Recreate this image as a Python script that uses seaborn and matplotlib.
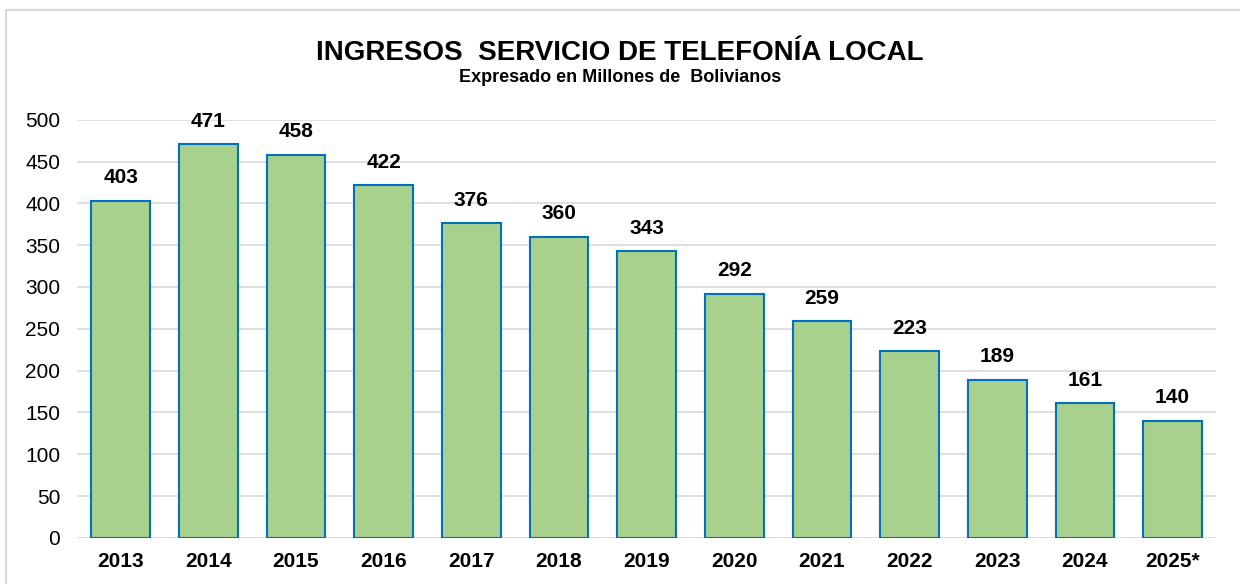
import matplotlib
matplotlib.use("Agg")
import matplotlib.pyplot as plt
import seaborn as sns
import pandas as pd

# data
years = ["2013", "2014", "2015", "2016", "2017", "2018", "2019",
         "2020", "2021", "2022", "2023", "2024", "2025*"]
ingresos = [403, 471, 458, 422, 376, 360, 343, 292, 259, 223, 189, 161, 140]
y_ticks = [0, 50, 100, 150, 200, 250, 300, 350, 400, 450, 500]

df = pd.DataFrame({"anio": years, "ingresos": ingresos})

sns.set_style("white")
plt.rcParams["font.family"] = ["Liberation Sans", "DejaVu Sans"]
plt.rcParams["text.color"] = "black"
plt.rcParams["xtick.color"] = "black"
plt.rcParams["ytick.color"] = "black"

fig = plt.figure(figsize=(12.4, 5.84), dpi=100)
ax = fig.add_axes([0.062, 0.079, 0.919, 0.716])

sns.barplot(data=df, x="anio", y="ingresos", color="#A9D18E",
            edgecolor="#0070C0", linewidth=1.5, width=0.67,
            saturation=1, ax=ax, zorder=3)

# value labels above bars
for i, v in enumerate(ingresos):
    ax.text(i, v + 16, str(v), ha="center", va="bottom",
            fontsize=15, fontweight="bold", color="black", clip_on=False)

ax.set_ylim(0, 500)
ax.set_xlim(-0.5, len(years) - 0.5)
ax.set_yticks(y_ticks)
ax.yaxis.grid(True, color="#D9D9D9", linewidth=1.2, zorder=0)
ax.set_axisbelow(True)
ax.tick_params(axis="y", labelsize=15, length=0, pad=12, labelcolor="black")
ax.tick_params(axis="x", labelsize=15, length=0, pad=10, labelcolor="black")
for lbl in ax.get_xticklabels():
    lbl.set_fontweight("bold")
ax.set_xlabel("")
ax.set_ylabel("")
for s in ax.spines.values():
    s.set_visible(False)

fig.text(0.5, 0.91, "INGRESOS  SERVICIO DE TELEFONÍA LOCAL", ha="center",
         va="center", fontsize=20, fontweight="bold", color="black")
fig.text(0.5, 0.868, "Expresado en Millones de  Bolivianos", ha="center",
         va="center", fontsize=13, fontweight="bold", color="black")

# light outer frame like the original chart area
frame = plt.Rectangle((6 / 1240, -0.1), 1.2, 1 - 10 / 584 + 0.1,
                      transform=fig.transFigure, fill=False,
                      edgecolor="#D9D9D9", linewidth=1.5)
fig.patches.append(frame)

fig.savefig("out.png", dpi=100)
